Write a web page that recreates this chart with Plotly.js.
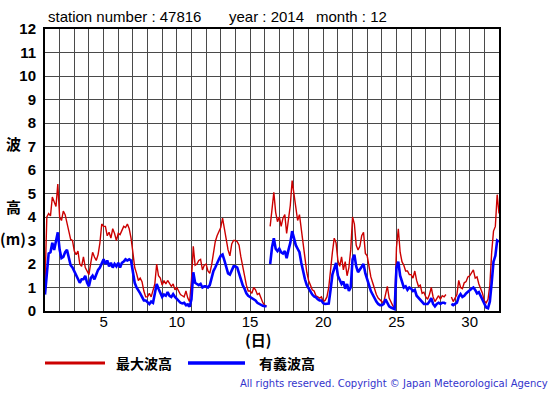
<!DOCTYPE html>
<html><head><meta charset="utf-8">
<script src="https://cdn.plot.ly/plotly-3.0.1.min.js"></script>
<style>html,body{margin:0;padding:0;background:#fff;overflow:hidden}</style>
</head><body><div id="chart" style="width:555px;height:395px"></div>
<script>
// December 2014, station 47816 — 3-hourly readings, day 1 00h .. day 32 00h
const startDay = 1;
const stepDays = 0.125;

// 最大波高 (maximum wave height, m)
const maxWave = [
  1.15, 4.0, 4.15, 4.05, 4.85, 4.6, 4.45, 5.4,
  4.0, 3.85, 4.25, 4.1, 3.8, 3.4, 3.05, 3.0,
  2.55, 2.4, 2.55, 2.0, 1.9, 2.3, 1.85, 1.7,
  1.55, 2.05, 2.5, 2.3, 2.15, 2.4, 2.9, 3.7,
  3.6, 3.6, 3.2, 3.35, 3.1, 3.5, 3.3, 3.0,
  3.3, 3.25, 3.45, 3.6, 3.55, 3.7, 3.5, 3.1,
  2.5, 1.85, 1.6, 1.3, 1.4, 1.25, 0.85, 0.6,
  0.6, 0.75, 0.6, 0.85, 1.15, 2.0, 1.5, 1.4,
  1.1, 1.3, 1.15, 1.3, 1.2, 1.05, 1.15, 0.9,
  1.0, 0.85, 0.7, 0.65, 0.6, 0.85, 0.55, 0.4,
  1.3, 2.75, 1.95, 2.0, 2.15, 2.2, 1.75, 1.95,
  2.0, 1.7, 1.6, 1.95, 2.5, 2.95, 3.2, 3.4,
  3.55, 3.95, 3.5, 3.15, 2.6, 2.35, 2.85, 3.0,
  3.0, 2.95, 2.8, 2.3, 1.9, 1.4, 1.1, 0.85,
  0.85, 0.75, 1.0, 0.9, 0.7, 0.75, 0.5, 0.35,
  0.25, 0.2, null, 3.6, 4.5, 5.05, 4.2, 3.8,
  4.0, 3.6, 3.95, 4.1, 3.3, 3.95, 4.5, 5.55,
  4.9, 4.3, 3.85, 4.1, 3.5, 2.7, 2.2, 1.65,
  1.3, 1.05, 0.9, 0.85, 0.65, 0.6, 0.55, 0.6,
  0.4, 0.45, 0.6, 1.0, 1.9, 2.5, 3.1, 2.9,
  2.15, 1.9, 2.3, 1.75, 2.1, 1.5, 1.85, 2.6,
  4.0, 3.7, 2.8, 2.6, 2.75, 3.2, 3.35, 2.45,
  2.35, 1.8, 1.45, 1.2, 0.9, 0.7, 0.55, 0.45,
  0.4, 0.35, 0.7, 1.05, 0.55, 0.35, 0.22, 0.15,
  2.7, 3.5, 2.5, 2.1, 1.95, 1.7, 1.7, 1.55,
  1.55, 1.4, 1.7, 1.3, 1.05, 1.1, 0.75, 0.8,
  0.6, 0.5, 0.7, 1.0, 0.6, 0.4, 0.55, 0.65,
  0.5, 0.65, 0.6, 0.7, null, null, 0.6, 0.4,
  0.55, 0.7, 1.3, 1.0, 0.95, 1.2, 1.25, 1.45,
  1.5, 1.6, 1.75, 1.4, 1.45, 1.15, 0.95, 0.75,
  0.42, 0.35, 0.5, 1.1, 2.5, 3.4, 3.6, 4.95,
  4.15
];

// 有義波高 (significant wave height, m)
const sigWave = [
  0.7, 1.5, 2.45, 2.5, 2.9, 2.6, 2.95, 3.35,
  2.6, 2.25, 2.3, 2.5, 2.6, 2.2, 1.95, 1.85,
  1.7, 1.5, 1.35, 1.2, 1.35, 1.35, 1.5, 1.2,
  1.05, 1.4, 1.5, 1.35, 1.55, 1.75, 1.85, 2.05,
  2.2, 2.0, 2.15, 1.9, 2.05, 1.85, 2.0, 1.9,
  2.05, 1.85, 2.05, 2.1, 2.2, 2.15, 2.2, 2.15,
  1.65, 1.2, 1.0, 0.9, 0.75, 0.6, 0.45, 0.45,
  0.35, 0.3, 0.4, 0.35, 0.75, 1.15, 0.95, 0.75,
  0.6, 0.7, 0.65, 0.8, 0.65, 0.6, 0.72, 0.6,
  0.5, 0.42, 0.35, 0.32, 0.35, 0.25, 0.28, 0.18,
  0.5, 1.65, 1.2, 1.15, 1.1, 1.15, 1.0, 1.05,
  1.05, 1.0, 1.1, 1.4, 1.7, 1.85, 2.05, 2.2,
  2.35, 2.4, 2.15, 1.85, 1.6, 1.55, 1.75, 1.9,
  1.9, 1.85, 1.6, 1.3, 1.1, 0.95, 0.75, 0.65,
  0.6, 0.55, 0.5, 0.45, 0.35, 0.3, 0.25, 0.22,
  0.2, 0.2, null, 2.0, 2.7, 3.1, 2.65, 2.55,
  2.65, 2.5, 2.45, 2.55, 2.25, 2.6, 2.9, 3.4,
  3.1, 2.8, 2.65, 2.5, 2.05, 1.65, 1.35, 1.1,
  0.95, 0.85, 0.7, 0.62, 0.58, 0.5, 0.45, 0.45,
  0.33, 0.3, 0.3, 0.32, 0.9, 1.55, 1.8, 2.05,
  1.5, 1.3, 1.15, 1.25, 0.95, 1.15, 0.85, 1.0,
  2.2, 2.4, 1.9, 1.65, 1.75, 1.85, 2.0, 1.6,
  1.3, 1.1, 0.85, 0.7, 0.5, 0.4, 0.3, 0.25,
  0.25, 0.3, 0.5, 0.35, 0.2, 0.15, 0.1, 0.08,
  1.85, 2.1, 1.5, 1.2, 1.0, 1.05, 0.9, 1.0,
  0.95, 0.85, 0.9, 0.65, 0.55, 0.45, 0.35, 0.3,
  0.3, 0.3, 0.4, 0.55, 0.3, 0.2, 0.3, 0.35,
  0.3, 0.35, 0.35, 0.3, null, null, 0.3, 0.25,
  0.3, 0.35, 0.6, 0.72, 0.6, 0.65, 0.75, 0.8,
  0.88, 0.95, 1.0, 0.9, 0.75, 0.8, 0.65, 0.5,
  0.3, 0.15, 0.12, 0.4, 1.2, 2.1, 2.35, 3.0,
  2.95
];

const xTickVals = [5, 10, 15, 20, 25, 30];
const xTickText = ['5', '10', '15', '20', '25', '30'];
const yTickVals = [0,1,2,3,4,5,6,7,8,9,10,11,12];
const yTickText = ['0','1','2','3','4','5','6','7','8','9','10','11','12'];
const titleParts = ['station number : 47816', 'year : 2014', 'month : 12'];
const seriesNames = ['最大波高', '有義波高'];
const xTitle = '(日)';
const yTitleParts = ['波', '高', '(m)'];
const copyright = 'All rights reserved. Copyright © Japan Meteorological Agency';

const time = maxWave.map((_, i) => startDay + i * stepDays);

// pixel -> paper helpers (plot area: x 45..499, y 29..311)
const W = 555, H = 395, M = {l: 45, r: 56, t: 29, b: 84};
const PW = W - M.l - M.r, PH = H - M.t - M.b;
const px = x => (x - M.l) / PW;
const py = y => (H - M.b - y) / PH;

const latin = '"Liberation Sans", Arial, Helvetica, sans-serif';
const cjk = '"Noto Sans CJK JP", "Noto Sans", sans-serif';

const traces = [
  {x: time, y: maxWave, type: 'scatter', mode: 'lines', name: seriesNames[0],
   line: {color: '#cc0000', width: 1.4}, connectgaps: false, showlegend: false},
  {x: time, y: sigWave, type: 'scatter', mode: 'lines', name: seriesNames[1],
   line: {color: '#0000ff', width: 2.6}, connectgaps: false, showlegend: false}
];

const annotations = [
  {text: titleParts[0], x: px(46), y: py(16.5), xanchor: 'left', yanchor: 'middle'},
  {text: titleParts[1], x: px(227), y: py(16.5), xanchor: 'left', yanchor: 'middle'},
  {text: titleParts[2], x: px(314), y: py(16.5), xanchor: 'left', yanchor: 'middle'},
].map(a => Object.assign(a, {xref: 'paper', yref: 'paper', showarrow: false,
  font: {family: latin, size: 15, color: '#000'}}));

annotations.push({text: xTitle, x: px(258), y: py(339), xanchor: 'center', yanchor: 'middle',
  xref: 'paper', yref: 'paper', showarrow: false, borderpad: 0,
  font: {family: cjk, size: 15, color: '#000', weight: 'bold'}});
[[143, 0], [206, 1], [238, 2]].forEach(([yy, k]) => annotations.push({
  text: yTitleParts[k], x: px(13), y: py(yy), xanchor: 'center', yanchor: 'middle',
  xref: 'paper', yref: 'paper', showarrow: false, font: {family: cjk, size: 15, color: '#000', weight: 'bold'}}));
annotations.push({text: seriesNames[0], x: px(114), y: py(363), xanchor: 'left', yanchor: 'middle',
  xref: 'paper', yref: 'paper', showarrow: false, font: {family: cjk, size: 14, color: '#000', weight: 'bold'}});
annotations.push({text: seriesNames[1], x: px(257), y: py(363), xanchor: 'left', yanchor: 'middle',
  xref: 'paper', yref: 'paper', showarrow: false, font: {family: cjk, size: 14, color: '#000', weight: 'bold'}});
annotations.push({text: copyright, x: px(550), y: py(384), xanchor: 'right', yanchor: 'middle',
  xref: 'paper', yref: 'paper', showarrow: false, font: {family: '"DejaVu Sans", sans-serif', size: 10, color: '#3333cc'}});

const shapes = [
  {type: 'line', xref: 'paper', yref: 'paper', x0: px(45), x1: px(105), y0: py(363), y1: py(363),
   line: {color: '#cc0000', width: 3}},
  {type: 'line', xref: 'paper', yref: 'paper', x0: px(188), x1: px(245), y0: py(363), y1: py(363),
   line: {color: '#0000ff', width: 3.5}}
];

const gridColor = '#4a4a4a';
const layout = {
  width: W, height: H, margin: M,
  paper_bgcolor: '#fff', plot_bgcolor: '#fff',
  showlegend: false,
  xaxis: {range: [1, 32], tickmode: 'array', tickvals: xTickVals, ticktext: xTickText,
    showgrid: true, gridcolor: gridColor, gridwidth: 1, zeroline: false,
    minor: {tick0: 1, dtick: 1, showgrid: true, gridcolor: gridColor, gridwidth: 1},
    showline: true, linecolor: '#000', linewidth: 2, mirror: true, ticks: '',
    tickfont: {family: latin, size: 15, color: '#000'}, ticklabelstandoff: -4, fixedrange: true},
  yaxis: {range: [0, 12], tickmode: 'array', tickvals: yTickVals, ticktext: yTickText,
    showgrid: true, gridcolor: gridColor, gridwidth: 1, zeroline: false,
    showline: true, linecolor: '#000', linewidth: 2, mirror: true, ticks: '',
    tickfont: {family: latin, size: 15, color: '#000', weight: 'bold'}, ticklabelstandoff: 4, fixedrange: true},
  annotations: annotations,
  shapes: shapes
};

Plotly.newPlot('chart', traces, layout, {staticPlot: true, displayModeBar: false});
</script>
</body></html>
